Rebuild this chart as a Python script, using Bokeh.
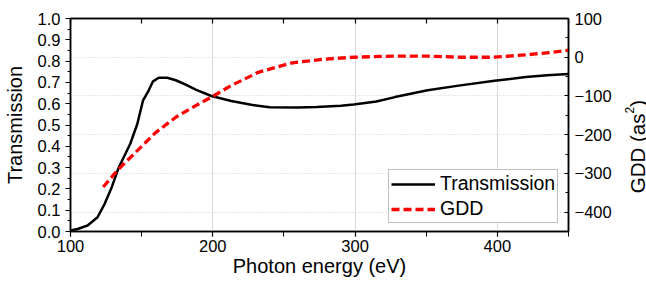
from bokeh.plotting import figure
from bokeh.models import (Range1d, LinearAxis, FixedTicker, Grid, Legend, LegendItem,
                          CustomJSTickFormatter, Div)
from bokeh.layouts import row
from bokeh.embed import file_html
from bokeh.resources import INLINE

# ---- data ----
energy_T = [100, 105, 112, 119, 124, 129, 134, 142, 147, 151, 155, 158, 162, 168, 174,
            181, 188, 199, 213, 227, 240, 260, 273, 290, 299, 315, 328, 351, 374, 398,
            420, 435, 450]
trans = [0.005, 0.012, 0.028, 0.067, 0.13, 0.208, 0.302, 0.412, 0.506, 0.616, 0.663,
         0.705, 0.722, 0.722, 0.71, 0.69, 0.666, 0.636, 0.613, 0.595, 0.583, 0.582,
         0.584, 0.59, 0.596, 0.61, 0.631, 0.663, 0.686, 0.708, 0.725, 0.733, 0.74]

energy_G = [123, 133, 147, 160, 174, 188, 200, 213, 232, 255, 278, 299, 328, 351,
            374, 397, 420, 439, 450]
gdd = [-335, -292, -241, -194, -155, -125, -101, -73, -39, -15, -5, 0, 3, 3, 0, 0,
       6, 13, 18]

x_major = [100, 200, 300, 400]
x_all = [100, 150, 200, 250, 300, 350, 400, 450]
y_major = [0.0, 0.1, 0.2, 0.3, 0.4, 0.5, 0.6, 0.7, 0.8, 0.9, 1.0]
y_minor = [i * 0.05 for i in range(21)]
g_major = [100, 0, -100, -200, -300, -400]
g_minor = [100, 50, 0, -50, -100, -150, -200, -250, -300, -350, -400, -450]

FONT = "Liberation Sans"

p = figure(width=614, height=283, output_backend="svg", toolbar_location=None,
           x_range=Range1d(100, 450), y_range=Range1d(0, 1.0),
           min_border_left=69, min_border_right=40, min_border_top=18,
           min_border_bottom=52)
p.extra_y_ranges = {"gdd": Range1d(-450, 100)}

p.outline_line_color = "black"
p.outline_line_width = 1.5

# bottom axis
xa = p.xaxis[0]
xa.ticker = FixedTicker(ticks=x_major, minor_ticks=x_all)
xa.axis_label = "Photon energy (eV)"
# left axis
ya = p.yaxis[0]
ya.ticker = FixedTicker(ticks=y_major, minor_ticks=y_minor)
ya.axis_label = "Transmission"
ya.formatter = CustomJSTickFormatter(code="return tick.toFixed(1);")

# right axis (title drawn beside it, reading bottom-to-top)
ra = LinearAxis(y_range_name="gdd", ticker=FixedTicker(ticks=g_major, minor_ticks=g_minor))
p.add_layout(ra, "right")
# top axis (ticks only)
ta = LinearAxis(ticker=FixedTicker(ticks=x_all, minor_ticks=[]),
                formatter=CustomJSTickFormatter(code="return '';"))
p.add_layout(ta, "above")

for ax in [xa, ya, ra, ta]:
    ax.axis_line_color = "black"
    ax.axis_line_width = 1.5
    ax.major_tick_line_color = "black"
    ax.minor_tick_line_color = "black"
    ax.major_tick_line_width = 1.2
    ax.minor_tick_line_width = 1
    ax.major_label_text_font = FONT
    ax.major_label_text_font_size = "16.5px"
    ax.major_label_text_color = "black"
    ax.axis_label_text_font = FONT
    ax.axis_label_text_font_size = "20px"
    ax.axis_label_text_font_style = "normal"
    ax.axis_label_text_color = "black"

ta.major_label_text_font_size = "10px"
ta.major_tick_in = 5
ta.major_tick_out = 0
ta.major_label_standoff = 0

xa.major_tick_in = 0
xa.major_tick_out = 5
xa.minor_tick_in = 0
xa.minor_tick_out = 5
xa.major_label_standoff = 3
xa.axis_label_standoff = 0

ya.major_tick_in = 0
ya.major_tick_out = 5
ya.minor_tick_in = 0
ya.minor_tick_out = 3
ya.major_label_standoff = 5
ya.axis_label_standoff = 9

ra.major_tick_in = 4
ra.major_tick_out = 0
ra.minor_tick_in = 3
ra.minor_tick_out = 0
ra.major_label_standoff = 6

# grids
p.xgrid.ticker = FixedTicker(ticks=x_major)
p.xgrid.grid_line_color = "#d8d8d8"
p.xgrid.grid_line_width = 1
p.ygrid.grid_line_color = None
gg = Grid(dimension=1, y_range_name="gdd", ticker=FixedTicker(ticks=g_major))
gg.grid_line_color = "#d0d0d0"
gg.grid_line_dash = "1 2"
gg.grid_line_width = 1
p.add_layout(gg)

r1 = p.line(energy_T, trans, line_color="black", line_width=2.5)
r2 = p.line(energy_G, gdd, y_range_name="gdd", line_color="#ff0000", line_width=3.3,
            line_dash="8 4")

leg = Legend(items=[LegendItem(label="Transmission", renderers=[r1]),
                    LegendItem(label="GDD", renderers=[r2])],
             location=(318, 8))
leg.label_text_font = FONT
leg.label_text_font_size = "19.5px"
leg.label_text_color = "black"
leg.glyph_width = 44
leg.glyph_height = 22
leg.label_height = 22
leg.label_standoff = 5
leg.padding = 2
leg.spacing = 2
leg.margin = 0
leg.border_line_color = "#808080"
leg.border_line_width = 1
leg.background_fill_alpha = 1
p.add_layout(leg, "center")

right_title = Div(
    text=('<div style="width:32px;height:283px;display:flex;align-items:center;'
          'justify-content:center;padding-left:4px;box-sizing:border-box;">'
          '<span style="writing-mode:vertical-rl;transform:rotate(180deg);'
          "white-space:nowrap;font-family:'Liberation Sans';font-size:20.5px;"
          'color:black;line-height:1.1;">'
          'GDD (as<sup style="font-size:12px;">2</sup>)</span></div>'),
    width=32, height=283)

layout = row(p, right_title, spacing=0)

open("out.html", "w").write(file_html(layout, INLINE))
